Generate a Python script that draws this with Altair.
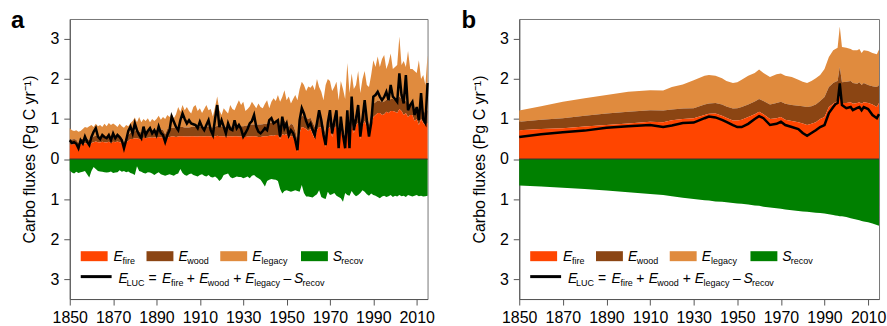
import altair as alt
import pandas as pd

# ---------------- Panel a (annual) ----------------
a_years = list(range(1850, 2016))
a_fire = [
    0.37, 0.36, 0.38, 0.35, 0.27, 0.38, 0.37, 0.40, 0.38, 0.33,
    0.40, 0.42, 0.44, 0.42, 0.41, 0.43, 0.42, 0.41, 0.43, 0.40,
    0.43, 0.42, 0.44, 0.42, 0.40, 0.27, 0.42, 0.45, 0.50, 0.50,
    0.52, 0.52, 0.50, 0.48, 0.53, 0.52, 0.53, 0.54, 0.53, 0.54,
    0.54, 0.55, 0.54, 0.53, 0.43, 0.54, 0.55, 0.56, 0.56, 0.55,
    0.56, 0.57, 0.57, 0.56, 0.56, 0.56, 0.57, 0.57, 0.56, 0.56,
    0.57, 0.57, 0.56, 0.57, 0.57, 0.56, 0.55, 0.56, 0.58, 0.57,
    0.57, 0.56, 0.56, 0.57, 0.57, 0.56, 0.57, 0.57, 0.56, 0.56,
    0.55, 0.55, 0.56, 0.56, 0.57, 0.57, 0.56, 0.55, 0.55, 0.56,
    0.57, 0.57, 0.58, 0.59, 0.58, 0.60, 0.60, 0.50, 0.62, 0.60,
    0.62, 0.50, 0.58, 0.55, 0.40, 0.18, 0.65, 0.80, 0.78, 0.75,
    0.70, 0.75, 0.62, 0.50, 0.72, 0.80, 0.78, 0.55, 0.30, 0.75,
    0.80, 0.55, 0.78, 0.82, 0.25, 0.80, 0.50, 0.25, 0.85, 0.25,
    0.90, 0.65, 0.85, 0.90, 0.50, 0.85, 0.95, 0.80, 0.55, 0.85,
    1.05, 1.10, 1.15, 1.15, 1.10, 1.12, 1.18, 1.15, 1.20, 1.20,
    1.18, 1.15, 1.25, 1.20, 1.10, 1.15, 1.05, 1.10, 1.10, 0.95,
    1.00, 0.85, 1.00, 0.90, 0.85, 0.90,
]
a_fire_wood = [
    0.50, 0.49, 0.50, 0.48, 0.40, 0.50, 0.50, 0.53, 0.51, 0.47,
    0.53, 0.56, 0.58, 0.56, 0.55, 0.57, 0.56, 0.55, 0.57, 0.54,
    0.57, 0.56, 0.58, 0.56, 0.54, 0.42, 0.56, 0.60, 0.66, 0.66,
    0.70, 0.70, 0.68, 0.66, 0.72, 0.70, 0.72, 0.73, 0.72, 0.73,
    0.73, 0.75, 0.74, 0.73, 0.62, 0.75, 0.76, 0.78, 0.78, 0.77,
    0.78, 0.80, 0.80, 0.79, 0.79, 0.79, 0.80, 0.81, 0.80, 0.80,
    0.81, 0.81, 0.80, 0.81, 0.81, 0.80, 0.79, 0.80, 0.83, 0.82,
    0.82, 0.81, 0.81, 0.82, 0.82, 0.81, 0.82, 0.83, 0.82, 0.82,
    0.82, 0.83, 0.84, 0.85, 0.86, 0.86, 0.86, 0.86, 0.86, 0.87,
    0.88, 0.88, 0.90, 0.91, 0.91, 0.93, 0.94, 0.82, 0.96, 0.95,
    0.92, 0.80, 0.88, 0.85, 0.70, 0.48, 0.95, 1.08, 1.06, 1.03,
    1.00, 1.03, 0.92, 0.80, 1.00, 1.08, 1.06, 0.85, 0.60, 1.04,
    1.08, 0.85, 1.06, 1.10, 0.55, 1.08, 0.80, 0.55, 1.13, 0.55,
    1.20, 0.95, 1.15, 1.20, 0.80, 1.16, 1.26, 1.10, 0.85, 1.16,
    1.38, 1.42, 1.46, 1.45, 1.42, 1.44, 1.48, 1.46, 1.50, 1.50,
    1.48, 1.46, 1.56, 1.50, 1.40, 1.46, 1.35, 1.40, 1.40, 1.25,
    1.30, 1.15, 1.30, 1.20, 1.15, 1.22,
]
a_total = [
    0.77, 0.72, 0.70, 0.72, 0.68, 0.70, 0.75, 0.80, 0.78, 0.82,
    0.85, 0.80, 0.88, 0.82, 0.85, 0.80, 0.88, 0.82, 0.90, 0.85,
    0.89, 0.85, 0.80, 0.88, 0.82, 0.78, 0.85, 0.82, 0.90, 0.95,
    1.04, 0.92, 1.05, 0.92, 1.00, 0.95, 1.02, 0.92, 1.00, 0.95,
    1.00, 1.08, 0.98, 1.05, 1.00, 1.10, 1.05, 1.14, 1.02, 1.12,
    1.30, 1.18, 1.35, 1.22, 1.30, 1.20, 1.14, 1.30, 1.35, 1.20,
    1.27, 1.15, 1.25, 1.35, 1.22, 1.25, 1.06, 1.30, 1.56, 1.22,
    1.10, 1.27, 1.20, 1.14, 1.35, 1.25, 1.22, 1.35, 1.47, 1.35,
    1.43, 1.20, 1.25, 1.31, 1.43, 1.35, 1.27, 1.39, 1.30, 1.27,
    1.38, 1.47, 1.27, 1.43, 1.52, 1.45, 1.60, 1.43, 1.55, 1.72,
    1.47, 1.56, 1.39, 1.50, 1.60, 1.47, 1.75, 1.93, 1.85, 1.70,
    1.81, 1.78, 1.85, 1.72, 2.00, 1.80, 1.68, 1.47, 1.85, 2.00,
    1.95, 1.70, 1.80, 1.93, 1.47, 1.95, 1.75, 1.50, 2.40, 1.65,
    2.14, 1.75, 1.85, 2.20, 1.65, 2.00, 2.20, 1.85, 1.80, 2.10,
    2.47, 2.30, 2.56, 2.30, 2.50, 2.60, 2.25, 2.40, 2.64, 2.25,
    2.30, 2.35, 3.06, 2.35, 2.45, 2.30, 2.70, 2.25, 2.25, 2.20,
    2.15, 2.47, 2.00, 2.10, 1.85, 2.60,
]
a_recov = [
    0.29, 0.34, 0.36, 0.32, 0.35, 0.33, 0.32, 0.30, 0.38, 0.46,
    0.30, 0.20, 0.25, 0.30, 0.31, 0.32, 0.33, 0.34, 0.33, 0.31,
    0.35, 0.34, 0.33, 0.28, 0.32, 0.30, 0.33, 0.31, 0.35, 0.37,
    0.40, 0.18, 0.30, 0.32, 0.35, 0.36, 0.33, 0.34, 0.36, 0.40,
    0.36, 0.33, 0.38, 0.40, 0.42, 0.40, 0.38, 0.40, 0.42, 0.38,
    0.36, 0.25, 0.35, 0.40, 0.42, 0.38, 0.36, 0.40, 0.42, 0.44,
    0.40, 0.38, 0.42, 0.44, 0.40, 0.45, 0.46, 0.44, 0.48, 0.55,
    0.50, 0.40, 0.38, 0.36, 0.45, 0.48, 0.46, 0.44, 0.45, 0.45,
    0.48, 0.46, 0.44, 0.48, 0.42, 0.40, 0.45, 0.48, 0.52, 0.60,
    0.69, 0.55, 0.52, 0.50, 0.51, 0.52, 0.55, 0.75, 0.86, 0.80,
    0.78, 0.80, 0.82, 0.80, 0.78, 0.80, 0.82, 0.65, 0.85, 0.94,
    0.94, 0.95, 0.96, 0.92, 0.88, 0.78, 0.95, 0.98, 1.00, 0.82,
    0.90, 0.88, 0.85, 0.92, 0.95, 0.98, 1.07, 0.85, 0.90, 0.92,
    0.80, 0.88, 0.93, 0.90, 0.85, 0.78, 0.82, 0.88, 0.92, 0.86,
    0.90, 0.92, 0.95, 0.98, 0.94, 0.92, 0.95, 0.93, 0.90, 0.95,
    0.92, 0.94, 0.90, 0.93, 0.92, 0.95, 0.90, 0.92, 0.94, 0.92,
    0.90, 0.93, 0.92, 0.94, 0.93, 0.92,
]
a_luc = [
    0.47, 0.40, 0.42, 0.38, 0.27, 0.47, 0.39, 0.56, 0.43, 0.35,
    0.55, 0.68, 0.77, 0.56, 0.50, 0.60, 0.55, 0.52, 0.60, 0.47,
    0.64, 0.52, 0.60, 0.55, 0.47, 0.27, 0.47, 0.70, 0.81, 0.64,
    0.89, 0.72, 0.60, 0.52, 0.81, 0.60, 0.70, 0.77, 0.64, 0.72,
    0.60, 0.81, 0.65, 0.60, 0.43, 0.60, 0.72, 1.06, 0.93, 0.80,
    0.72, 0.97, 1.14, 1.00, 0.89, 0.97, 0.89, 0.87, 0.85, 0.77,
    0.93, 0.80, 0.72, 0.85, 0.97, 0.72, 0.60, 1.00, 1.35, 0.80,
    0.97, 0.81, 0.64, 0.89, 0.75, 0.72, 0.97, 0.77, 0.85, 0.75,
    0.56, 0.65, 0.75, 0.89, 0.95, 1.10, 0.81, 0.68, 0.64, 0.70,
    0.77, 0.72, 0.97, 1.02, 0.89, 0.93, 0.97, 0.56, 1.06, 0.77,
    0.89, 0.60, 0.72, 0.65, 0.47, 0.22, 0.97, 1.27, 1.14, 0.95,
    0.81, 0.89, 0.73, 0.60, 0.90, 1.22, 0.97, 0.60, 0.35, 0.90,
    1.22, 0.64, 0.95, 1.22, 0.27, 1.06, 0.60, 0.27, 1.22, 0.27,
    1.56, 0.72, 1.00, 1.35, 0.56, 1.00, 1.47, 0.97, 0.56, 0.90,
    1.56, 1.60, 1.68, 1.56, 1.47, 1.55, 1.68, 1.47, 1.85, 1.56,
    1.50, 1.43, 2.14, 1.60, 1.39, 2.10, 1.22, 1.35, 1.43, 1.10,
    1.30, 0.97, 1.65, 1.00, 0.90, 1.90,
]

# ---------------- Panel b (smooth) ----------------
b_years = [1850, 1860, 1870, 1880, 1890, 1900, 1910, 1916, 1920, 1925,
           1930, 1935, 1937, 1940, 1943, 1945, 1948, 1950, 1952, 1955,
           1958, 1960, 1962, 1965, 1968, 1970, 1972, 1975, 1978, 1980,
           1982, 1984, 1986, 1988, 1990, 1992, 1994, 1995, 1996, 1997,
           1998, 2000, 2002, 2003, 2005, 2006, 2007, 2008, 2010, 2012,
           2014, 2015]
b_fire = [0.72, 0.75, 0.77, 0.81, 0.85, 0.89, 0.93, 0.92, 0.97, 1.00,
          1.02, 1.10, 1.13, 1.14, 1.08, 1.03, 0.96, 0.96, 0.98, 1.05,
          1.12, 1.18, 1.12, 1.00, 1.02, 1.05, 0.98, 0.95, 0.92, 0.89,
          0.85, 0.88, 0.92, 1.00, 1.05, 1.30, 1.38, 1.42, 1.45, 1.77,
          1.40, 1.40, 1.42, 1.38, 1.40, 1.42, 1.38, 1.42, 1.40, 1.36,
          1.30, 1.40]
b_fire_wood = [0.93, 0.98, 1.02, 1.08, 1.14, 1.18, 1.22, 1.21, 1.24, 1.26,
               1.27, 1.36, 1.39, 1.40, 1.36, 1.31, 1.26, 1.27, 1.30, 1.36,
               1.44, 1.50, 1.45, 1.36, 1.40, 1.43, 1.38, 1.35, 1.33, 1.32,
               1.30, 1.32, 1.36, 1.45, 1.55, 1.80, 1.90, 1.93, 1.95, 2.30,
               1.92, 1.93, 1.95, 1.90, 1.88, 1.92, 1.85, 1.90, 1.85, 1.82,
               1.80, 1.85]
b_total = [1.21, 1.32, 1.43, 1.52, 1.60, 1.68, 1.72, 1.71, 1.80, 1.86,
           1.97, 2.08, 2.10, 2.08, 2.02, 1.95, 1.90, 1.92, 1.98, 2.08,
           2.15, 2.24, 2.15, 2.05, 2.12, 2.14, 2.08, 2.05, 1.98, 1.93,
           1.90, 1.95, 2.02, 2.10, 2.25, 2.55, 2.72, 2.75, 2.78, 3.31,
           2.80, 2.78, 2.75, 2.72, 2.72, 2.75, 2.65, 2.72, 2.70, 2.65,
           2.62, 2.74]
b_recov = [0.66, 0.69, 0.72, 0.75, 0.79, 0.83, 0.875, 0.90, 0.93, 0.97,
           1.00, 1.03, 1.04, 1.06, 1.07, 1.08, 1.10, 1.11, 1.12, 1.14,
           1.16, 1.17, 1.19, 1.21, 1.23, 1.24, 1.26, 1.28, 1.30, 1.31,
           1.32, 1.33, 1.34, 1.35, 1.36, 1.38, 1.40, 1.41, 1.42, 1.43,
           1.43, 1.45, 1.48, 1.49, 1.52, 1.53, 1.55, 1.56, 1.58, 1.61,
           1.65, 1.67]
b_luc = [0.55, 0.62, 0.67, 0.71, 0.78, 0.82, 0.85, 0.80, 0.84, 0.90,
         0.91, 1.02, 1.06, 1.04, 0.98, 0.93, 0.85, 0.80, 0.80, 0.88,
         1.00, 1.07, 1.02, 0.85, 0.88, 0.93, 0.85, 0.80, 0.75, 0.65,
         0.58, 0.65, 0.72, 0.80, 0.85, 1.15, 1.30, 1.37, 1.40, 1.89,
         1.35, 1.27, 1.30, 1.22, 1.28, 1.30, 1.22, 1.30, 1.25, 1.10,
         1.02, 1.12]

x_ticks = [1850, 1870, 1890, 1910, 1930, 1950, 1970, 1990, 2010]
y_ticks = [-3, -2, -1, 0, 1, 2, 3]

C_FIRE = "#FF4500"
C_WOOD = "#8B4513"
C_LEG = "#E08B3E"
C_REC = "#008000"
FONT = "Liberation Sans"

for arr in (a_fire, a_fire_wood, a_total, a_recov, a_luc):
    assert len(arr) == len(a_years)
for arr in (b_fire, b_fire_wood, b_total, b_recov, b_luc):
    assert len(arr) == len(b_years)


def make_df(years, fire, fw, total, recov, luc):
    return pd.DataFrame({
        "year": years, "fire": fire, "fire_wood": fw, "total": total,
        "neg_recov": [-v for v in recov], "luc": luc,
        "zero": [0.0] * len(years),
    })


one = pd.DataFrame({"k": [0]})


def txt(s, x, y, size=14, style="normal", weight="normal"):
    return alt.Chart(one).mark_text(
        text=s, align="left", baseline="alphabetic", fontSize=size,
        fontStyle=style, fontWeight=weight, font=FONT, color="black"
    ).encode(x=alt.value(x), y=alt.value(y))


def swatch(color, x1, x2, y1, y2):
    return alt.Chart(one).mark_rect(color=color).encode(
        x=alt.value(x1), x2=alt.value(x2), y=alt.value(y1), y2=alt.value(y2))


def panel(df, w, h, letter, letter_x):
    xs = alt.Scale(domain=[1850, 2015], nice=False, zero=False)
    ys = alt.Scale(domain=[-3.5, 3.5], nice=False)
    xax = alt.Axis(values=x_ticks, format="d", title=None, grid=False,
                   tickSize=6, labelPadding=5, labelOverlap=False,
                   labelFlush=False)
    yax = alt.Axis(values=y_ticks, labelExpr="format(abs(datum.value), 'd')",
                   title="Carbo fluxes (Pg C yr\u207b\u00b9)", grid=False,
                   tickSize=6, labelPadding=5, titlePadding=12,
                   labelOverlap=False)
    X = alt.X("year:Q", scale=xs, axis=xax)

    def Y(f):
        return alt.Y(f, type="quantitative", scale=ys, axis=yax)

    base = alt.Chart(df)
    legacy = base.mark_area(color=C_LEG, opacity=1).encode(x=X, y=Y("total"), y2="fire_wood:Q")
    wood = base.mark_area(color=C_WOOD, opacity=1).encode(x=X, y=Y("fire_wood"), y2="fire:Q")
    fire = base.mark_area(color=C_FIRE, opacity=1).encode(x=X, y=Y("fire"), y2="zero:Q")
    rec = base.mark_area(color=C_REC, opacity=1).encode(x=X, y=Y("zero"), y2="neg_recov:Q")
    zline = alt.Chart(one).mark_rule(color="#333", strokeWidth=1).encode(y=alt.datum(0))
    line = base.mark_line(color="black", strokeWidth=2.5).encode(x=X, y=Y("luc"))

    r1 = 243
    r2 = 265
    leg = [
        swatch(C_FIRE, 11, 38, 233, 243),
        txt("E", 44, r1, style="italic"), txt("fire", 53, r1 + 3, size=9),
        swatch(C_WOOD, 77, 104, 233, 243),
        txt("E", 109, r1, style="italic"), txt("wood", 118, r1 + 3, size=9),
        swatch(C_LEG, 151, 178, 233, 243),
        txt("E", 183, r1, style="italic"), txt("legacy", 192.5, r1 + 3, size=9),
        swatch(C_REC, 232, 259, 233, 243),
        txt("S", 264, r1, style="italic"), txt("recov", 272.5, r1 + 3, size=9),
        alt.Chart(one).mark_rule(color="black", strokeWidth=3).encode(
            x=alt.value(11), x2=alt.value(42), y=alt.value(258.5)),
        txt("E", 49, r2, style="italic"), txt("LUC", 57, r2 + 3, size=9),
        txt("=", 79, r2),
        txt("E", 92.5, r2, style="italic"), txt("fire", 101.5, r2 + 3, size=9),
        txt("+", 117.5, r2),
        txt("E", 130, r2, style="italic"), txt("wood", 138.5, r2 + 3, size=9),
        txt("+", 164, r2),
        txt("E", 176, r2, style="italic"), txt("legacy", 185, r2 + 3, size=9),
        txt("\u2013", 214.5, r2),
        txt("S", 225, r2, style="italic"), txt("recov", 233.5, r2 + 3, size=9),
        txt(letter, letter_x, 9.5, size=24, weight="bold"),
    ]
    return alt.layer(legacy, wood, fire, rec, zline, line, *leg).properties(width=w, height=h)


pa = panel(make_df(a_years, a_fire, a_fire_wood, a_total, a_recov, a_luc), 359, 281, "a", -59)
pb = panel(make_df(b_years, b_fire, b_fire_wood, b_total, b_recov, b_luc), 361, 281, "b", -58)

chart = alt.hconcat(pa, pb, spacing=92, bounds="flush").properties(
    padding={"left": 10, "top": 8.5, "right": 0, "bottom": 0}
).configure_view(
    stroke="#777", strokeWidth=1
).configure_axis(
    domainColor="#555", tickColor="#555", labelColor="black", titleColor="black",
    labelFont=FONT, titleFont=FONT, labelFontSize=16, titleFontSize=16,
    titleFontWeight="normal"
)

chart.save("out.html", embed_options={"renderer": "svg", "actions": False})
